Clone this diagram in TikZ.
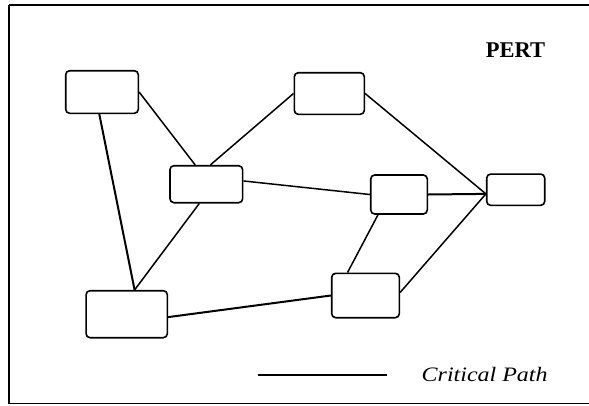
\documentclass[tikz,border=0pt]{standalone}
\usepackage{fontspec}
\setmainfont{Liberation Serif}
\usepackage{tikz}

\begin{document}
\begin{tikzpicture}[x=1pt, y=-1pt,
    task/.style={draw, line width=1.6pt, rounded corners=4pt, inner sep=0pt},
    link/.style={line width=1.5pt},
    crit/.style={line width=2pt}]
    \useasboundingbox (0,0) rectangle (589,405);
    \draw[line width=1.4pt] (9,5) -- (600,5);
    \draw[line width=1.4pt] (9,5) -- (9,403.5) -- (600,403.5);

    \node at (515.5,50) {\fontsize{22.5}{27}\selectfont\bfseries PERT};

    % activities
    \node[task, minimum width=72.6pt, minimum height=42.6pt] (a) at (102,92) {};
    \node[task, minimum width=72.7pt, minimum height=37pt] (b) at (206.3,184.2) {};
    \node[task, minimum width=70pt, minimum height=41.6pt] (c) at (329.3,93.5) {};
    \node[task, minimum width=56.6pt, minimum height=39pt] (d) at (399,194.5) {};
    \node[task, minimum width=58pt, minimum height=31.3pt] (e) at (515.7,189.7) {};
    \node[task, minimum width=81.3pt, minimum height=47pt] (f) at (126.7,314.2) {};
    \node[task, minimum width=67.6pt, minimum height=44.4pt] (g) at (365.5,295.5) {};

    \draw[link] (a.east) -- (b.120);
    \draw[link] (b.78) -- (c.west);
    \draw[link] (b.5) -- (d.west);
    \draw[link] (b.250) -- (f.72);
    \draw[link] (c.east) -- (e.188);
    \draw[link] (g.5) -- (e.188);
    \draw[link] (d.224) -- (g.128);

    % critical path
    \draw[crit] (a.263) -- (f.72);
    \draw[crit] (f.356) -- (g.west);
    \draw[crit] (d.east) -- (e.188);

    \coordinate (l1) at (258,375);
    \coordinate (l2) at (387,375);
    \draw[line width=1.4pt] (l1) -- (l2);
    \node[anchor=base west, inner sep=0pt] (cp) at (421.5,381.7)
        {\scalebox{1.17}[1]{\fontsize{20.5}{24}\selectfont\itshape Critical Path}};
\end{tikzpicture}
\end{document}
